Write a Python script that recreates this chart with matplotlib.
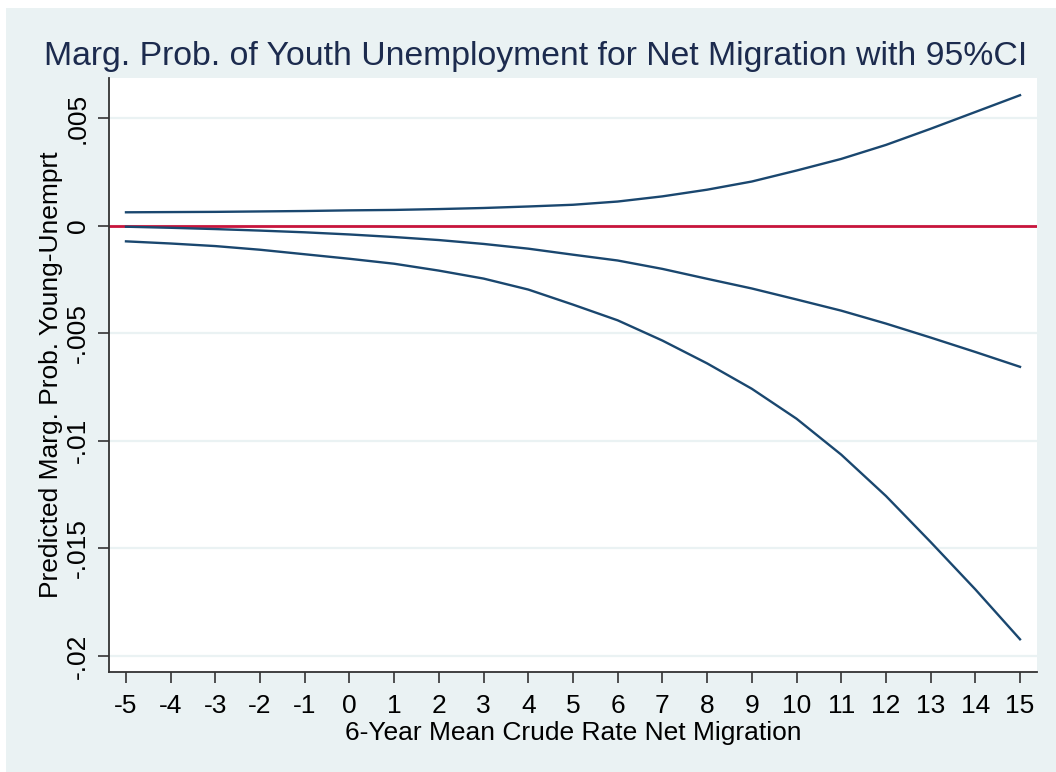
import matplotlib
matplotlib.use("Agg")
import matplotlib.pyplot as plt
from matplotlib.patches import Rectangle

# ---- data ----
x_vals = [-5, -4, -3, -2, -1, 0, 1, 2, 3, 4, 5, 6, 7, 8, 9, 10, 11, 12, 13, 14, 15]
upper_ci = [0.00062, 0.00063, 0.00064, 0.00066, 0.00068, 0.00071, 0.00073, 0.00077,
            0.00082, 0.00089, 0.00097, 0.00112, 0.00136, 0.00167, 0.00205, 0.00256,
            0.00310, 0.00375, 0.00450, 0.00528, 0.00606]
estimate = [-0.00005, -0.00010, -0.00016, -0.00023, -0.00031, -0.00041, -0.00053,
            -0.00067, -0.00085, -0.00107, -0.00135, -0.00162, -0.00201, -0.00247,
            -0.00292, -0.00343, -0.00395, -0.00455, -0.00520, -0.00587, -0.00656]
lower_ci = [-0.00073, -0.00083, -0.00095, -0.00112, -0.00133, -0.00154, -0.00177,
            -0.00209, -0.00246, -0.00297, -0.00367, -0.00440, -0.00534, -0.00640,
            -0.00758, -0.00897, -0.01064, -0.01256, -0.01470, -0.01690, -0.01922]
y_ticks = [0.005, 0, -0.005, -0.01, -0.015, -0.02]
y_ticklabels = [".005", "0", "-.005", "-.01", "-.015", "-.02"]
x_ticks = list(range(-5, 16))

title = "Marg. Prob. of Youth Unemployment for Net Migration with 95%CI"
xlabel = "6-Year Mean Crude Rate Net Migration"
ylabel = "Predicted Marg. Prob. Young-Unemprt"

# ---- styling ----
W, H = 1056, 772
BG = "#EAF2F3"
NAVY = "#1A476F"
RED = "#C8143C"
plt.rcParams['font.family'] = ['Liberation Sans', 'DejaVu Sans']

fig = plt.figure(figsize=(W / 100, H / 100), dpi=100, facecolor="white")
bg_ax = fig.add_axes([0, 0, 1, 1], zorder=-10)
bg_ax.set_xlim(0, W)
bg_ax.set_ylim(0, H)
bg_ax.axis("off")
bg_ax.add_patch(Rectangle((6, 0), W - 6, H - 8, facecolor=BG, edgecolor="none"))

left, right, top, bottom = 109, 1037, 78, 672
ax = fig.add_axes([left / W, 1 - bottom / H, (right - left) / W, (bottom - top) / H], zorder=1)
ax.set_facecolor("white")

ax.set_xlim(-5.38, 15.38)
ax.set_ylim(-0.02074, 0.00686)

for yt in y_ticks:
    ax.axhline(yt, color=BG, lw=1.6, zorder=1)

ax.axhline(0, color=RED, lw=2.0, zorder=2)
for series in (upper_ci, estimate, lower_ci):
    ax.plot(x_vals, series, color=NAVY, lw=1.7, zorder=3)

for s in ("top", "right"):
    ax.spines[s].set_visible(False)
for s in ("left", "bottom"):
    ax.spines[s].set_color("#333333")
    ax.spines[s].set_linewidth(1.3)

ax.set_xticks(x_ticks)
ax.set_xticklabels([str(v) for v in x_ticks])
ax.set_yticks(y_ticks)
ax.set_yticklabels(y_ticklabels, rotation=90, va="center")
ax.tick_params(axis="both", direction="out", length=8, width=1.2, color="#333333",
               labelsize=19, labelcolor="black")
ax.tick_params(axis="x", pad=8)
ax.tick_params(axis="y", pad=6)

ax.set_xlabel(xlabel, fontsize=19, labelpad=2, color="black")
ax.set_ylabel(ylabel, fontsize=19, labelpad=2, color="black")

fig.text(0.5 * (44 + 1028) / W, 1 - 57 / H, title, ha="center", va="center",
         fontsize=24.3, color="#1C2B4E")

fig.savefig("out.png", dpi=100, facecolor=fig.get_facecolor())
